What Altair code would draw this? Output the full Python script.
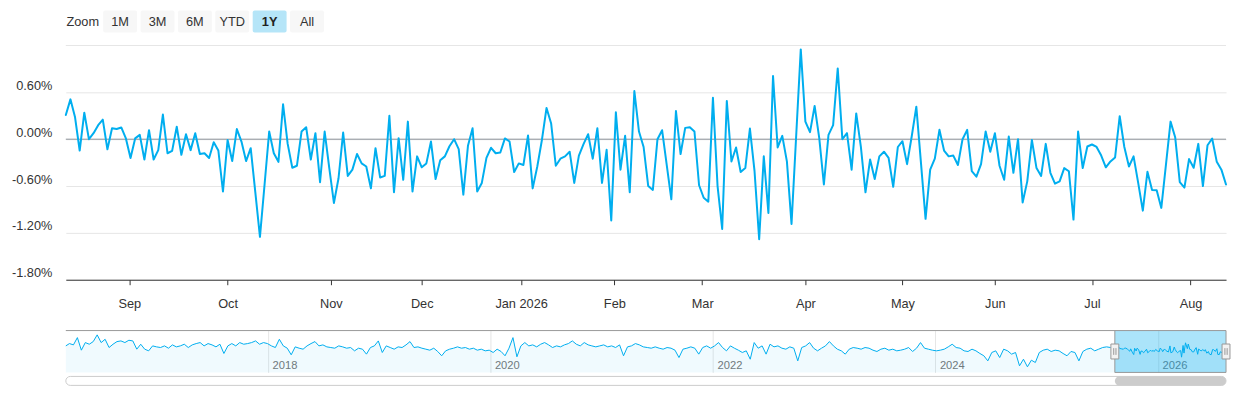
import json
import altair as alt
import numpy as np
import pandas as pd

FONT = "Liberation Sans"
BLUE = "#00aeef"

# ---------------- data ----------------
main_values = [
    0.31, 0.51, 0.28, -0.145, 0.34, 0.0, 0.077, 0.18, 0.25, -0.13,
    0.14, 0.13, 0.15, 0.01, -0.24, 0.01, 0.055, -0.26, 0.115, -0.26,
    -0.14, 0.315, -0.18, -0.15, 0.16, -0.2, 0.064, -0.14, 0.077, -0.19,
    -0.18, -0.24, -0.04, -0.145, -0.67, -0.01, -0.28, 0.13, -0.03, -0.28,
    -0.115, -0.68,
    -1.25, -0.58, 0.098, -0.18, -0.29, 0.447, -0.06, -0.366, -0.34, 0.098,
    0.153, -0.26, 0.077, -0.55, 0.098, -0.37, -0.817, -0.5, 0.085, -0.47,
    -0.39, -0.19, -0.31, -0.35, -0.63, -0.115, -0.49, -0.47, 0.30, -0.68,
    0.013, -0.52, 0.225, -0.67, -0.22, -0.36, -0.31, -0.03, -0.51, -0.27,
    -0.22, -0.09,
    0.0, -0.128, -0.71, -0.085, 0.14, -0.67, -0.56, -0.24, -0.11, -0.18,
    -0.17, 0.01, -0.03, -0.42, -0.31, -0.33, 0.047, -0.63, -0.35, -0.01,
    0.40, 0.20, -0.34, -0.25, -0.22, -0.16, -0.56, -0.21, -0.064, 0.064,
    -0.25, 0.14, -0.56, -0.136, -1.04, 0.345, -0.39, 0.043, -0.68, 0.617,
    0.098, -0.10,
    -0.60, -0.65, 0.0, 0.115, -0.33, -0.77, 0.36, -0.19, 0.145, 0.153,
    0.098, -0.59, -0.75, -0.80, 0.53, -0.60, -1.15, 0.49, -0.285, -0.106,
    -0.42, -0.37, 0.136, -0.41, -1.28, -0.22, -0.945, 0.81, -0.106, 0.043,
    -0.285, -1.085, 0.034, 1.15, 0.225, 0.09, 0.425, 0.013, -0.58, 0.055,
    0.18, 0.906,
    0.0, 0.077, -0.39, 0.33, -0.094, -0.68, -0.26, -0.51, -0.22, -0.16,
    -0.24, -0.61, -0.10, -0.026, -0.32, 0.034, 0.417, -0.30, -1.02, -0.39,
    -0.25, 0.12, -0.145, -0.22, -0.21, -0.33, 0.0, 0.12, -0.41, -0.48,
    -0.32, 0.10, -0.16, 0.077, -0.34, -0.52, 0.034, -0.43, 0.0, -0.81,
    -0.54, -0.01,
    -0.37, -0.47, -0.06, -0.43, -0.57, -0.54, -0.37, -0.41, -1.03, 0.098,
    -0.37, -0.094, -0.068, -0.10, -0.21, -0.36, -0.285, -0.234, 0.294, -0.10,
    -0.35, -0.22, -0.56, -0.915, -0.417, -0.65, -0.655, -0.88, -0.33, 0.225,
    0.026, -0.55, -0.62, -0.255, -0.366, -0.06, -0.60, -0.077, 0.009, -0.29,
    -0.39, -0.58,
]

market_holidays = [
    "2025-09-01", "2025-11-27", "2025-12-25", "2026-01-01", "2026-01-19",
    "2026-02-16", "2026-04-03", "2026-05-25", "2026-06-19", "2026-07-03",
]
first_day = "2025-08-12"
last_day = "2026-08-12"

month_starts = [
    "2025-09-01", "2025-10-01", "2025-11-01", "2025-12-01", "2026-01-01",
    "2026-02-01", "2026-03-01", "2026-04-01", "2026-05-01", "2026-06-01",
    "2026-07-01", "2026-08-01",
]
month_labels = ["Sep", "Oct", "Nov", "Dec", "Jan 2026", "Feb", "Mar", "Apr",
                "May", "Jun", "Jul", "Aug"]

y_tick_values = [-1.8, -1.2, -0.6, 0.0, 0.6]
y_top_grid = 1.2
y_min = -1.8

nav_start = "2016-03-08"
nav_history = [
    0.21, 0.42, 0.30, 0.96, -0.18, 0.51, 0.36, 0.60, 1.21, 0.51,
    0.81, 0.06, 0.36, 0.60, 0.66, 0.51, 0.72, 0.66, -0.09, 0.36,
    -0.09, -0.24, 0.21, 0.12, 0.06, 0.21, 0.00, 0.30, 0.12, 0.21,
    0.36, 0.06, 0.30, 0.42, 0.51, 0.21, 0.42, 0.30, 0.12, 0.36,
    -0.48, 0.21, 0.42, 0.21, 0.51, 0.36, 0.42, 0.51, 0.66, 0.36,
    0.51, 0.42, 0.21, 0.06, 0.81, 0.21, 0.00, -0.60, 0.12, 0.00,
    -0.09, 0.21, 0.42, 0.60, 0.21, 0.30, 0.12, 0.06, 0.00, 0.21,
    0.12, 0.00, 0.06, -0.24, 0.00, -0.09, -0.54, 0.06, 0.21, 0.66,
    -0.39, 0.21, 0.06, -0.09, 0.12, 0.06, 0.30, 0.60, 0.06, 0.12,
    0.00, -0.09, -0.18, 0.00, -0.30, -0.69, -0.24, -0.09, 0.00, 0.12,
    0.00, 0.06, -0.09, 0.00, -0.18, -0.09, -0.24, -0.18, -0.39, -0.09,
    -0.30, -0.69, 0.00, 0.96, -0.78, 0.21, 0.51, 0.21, 0.30, 0.12,
    0.36, 0.51, 0.30, 0.06, 0.21, 0.12, 0.30, 0.42, 0.66, 0.36,
    0.21, 0.51, 0.30, 0.21, 0.12, 0.21, 0.30, 0.12, 0.21, 0.06,
    0.30, -0.69, 0.12, 0.21, 0.42, 0.30, 0.12,
    0.06, 0.00, 0.12, 0.00, -0.09, 0.06, 0.00, -0.18, -0.85, -0.09,
    0.00, 0.12, 0.00, -0.54, 0.06, 0.21, 0.00, 0.21, 0.51, 0.06,
    -0.24, 0.21, 0.00, -0.18, -0.39, -0.24, -1.00, 0.51, 0.00, 0.21,
    -0.54, 0.36, 0.12, 0.21, 0.00, -0.09, 0.12, 0.00, -1.15, 0.06,
    0.21, 0.51, 0.00, -0.24, 0.00, 0.21, 0.60, 0.21, -0.09, -0.24,
    -0.54, -0.09, 0.06, 0.00, -0.09, 0.06, 0.00, -0.18, -0.30, -0.09,
    0.00, -0.18, -0.09, -0.24, -0.18, -0.09, 0.06, -0.30, 0.00, 0.51,
    0.00, -0.09, -0.18, -0.24, -0.18, -0.09, 0.12, 0.36, 0.06, 0.00,
    -0.24, -0.30, -0.09, -0.24, -0.48, -0.69, -1.15, -0.39, -0.24, -0.85,
    -0.09, -0.24, -0.54, -0.39, -1.60, -1.00, -1.69, -1.09, -1.30, -0.39,
    -0.18, -0.09, -0.30, -0.18, -0.24, -0.48, -0.69, -0.30, -0.39, -1.15,
    -0.30, -0.09, 0.00, -0.24, -0.09, 0.06, 0.12, 0.06, 0.12,
]
nav_year_ticks = [2018, 2020, 2022, 2024, 2026]
nav_y_domain = [-2.2, 1.6]

buttons = ["Zoom", "1M", "3M", "6M", "YTD", "1Y", "All"]
selected_button = "1Y"

# ---------------- derived tables ----------------
dates = pd.bdate_range(first_day, last_day, freq="C", holidays=market_holidays)
n = min(len(dates), len(main_values))
dates = dates[:n]
vals = main_values[:n]

main_df = pd.DataFrame({"i": np.arange(n), "v": vals})

ts = dates.asi8
tick_pos = []
for m in month_starts:
    t = pd.Timestamp(m).value
    k = int(np.searchsorted(ts, t))
    if k < n and ts[k] == t:
        p = float(k)
    else:
        p = (k - 1) + (t - ts[k - 1]) / (ts[k] - ts[k - 1])
    tick_pos.append(round(float(p), 4))

hist_dates = pd.date_range(nav_start, dates[0] - pd.Timedelta(days=1),
                           periods=len(nav_history))
grp_dates, grp_vals = [], []
for k in range(0, n, 3):
    chunk = vals[k:k + 3]
    grp_dates.append(dates[min(k + len(chunk) // 2, n - 1)])
    grp_vals.append(float(np.mean(chunk)))
nav_df = pd.DataFrame({"date": list(hist_dates) + grp_dates,
                       "v": list(nav_history) + grp_vals})
nav_df["date"] = pd.to_datetime(nav_df["date"]).dt.strftime("%Y-%m-%d")

d0 = dates[0].strftime("%Y-%m-%d")
d1 = dates[-1].strftime("%Y-%m-%d")
mask_df = pd.DataFrame({"start": [d0], "end": [d1]})
edge_df = pd.DataFrame({"date": [d0, d1]})
track_df = pd.DataFrame({"start": [nav_start], "end": [d1]})
one = pd.DataFrame({"k": [0]})


def dt(s):
    t = pd.Timestamp(s)
    return alt.DateTime(year=t.year, month=t.month, date=t.day)


# ---------------- range selector buttons ----------------
btn_df = pd.DataFrame({
    "label": buttons,
    "is_button": [b != "Zoom" for b in buttons],
    "selected": [b == selected_button for b in buttons],
})
bx = alt.X("label:N",
           scale=alt.Scale(domain=buttons, paddingInner=0.0933, paddingOuter=0, align=0),
           axis=alt.Axis(labels=False, ticks=False, domain=False, grid=False,
                         title=None, minExtent=12, maxExtent=12))
btn_rects = alt.Chart(btn_df).transform_filter("datum.is_button").mark_rect(
    cornerRadius=2).encode(
    x=bx,
    color=alt.condition("datum.selected", alt.value("#b5e5f8"), alt.value("#f7f7f7")),
)
btn_text = alt.Chart(btn_df).transform_filter("!datum.selected").mark_text(
    font=FONT, fontSize=12.8, color="#333333").encode(x=bx, text="label:N")
btn_text_sel = alt.Chart(btn_df).transform_filter("datum.selected").mark_text(
    font=FONT, fontSize=12.8, color="#222222", fontWeight="bold").encode(x=bx, text="label:N")
panel_buttons = alt.layer(btn_rects, btn_text, btn_text_sel).properties(
    width=alt.Step(37.5), height=22)

# ---------------- main chart ----------------
x_label_expr = "{}[indexof({}, datum.value)]".format(json.dumps(month_labels), json.dumps(tick_pos))
main_x_scale = alt.Scale(domain=[0, n - 1], nice=False, zero=False)
main_x_axis = alt.Axis(values=tick_pos, labelExpr=x_label_expr, grid=False,
                       domainColor="#333333", tickColor="#333333", tickSize=5,
                       labelPadding=13, labelFont=FONT, labelFontSize=12.8,
                       labelColor="#333333", labelOverlap=False, labelFlush=False,
                       title=None, minExtent=50, maxExtent=50)
main_y_scale = alt.Scale(domain=[y_min, y_top_grid], nice=False, zero=False)
main_y_axis = alt.Axis(values=y_tick_values,
                       labelExpr="replace(format(datum.value, '.2f'), '\u2212', '-') + '%'",
                       grid=True, gridColor="#e6e6e6", domain=False, ticks=False,
                       tickSize=0, labelPadding=14, labelFont=FONT, labelFontSize=12.8,
                       labelColor="#333333", labelBaseline="alphabetic", labelOffset=-3,
                       title=None, minExtent=58, maxExtent=58)

top_rule = alt.Chart(one).mark_rule(color="#e6e6e6", strokeWidth=1).encode(
    y=alt.YDatum(y_top_grid, scale=main_y_scale, axis=main_y_axis))
zero_rule = alt.Chart(one).mark_rule(color="#8c929a", strokeWidth=1).encode(
    y=alt.YDatum(0, scale=main_y_scale, axis=main_y_axis))
main_line = alt.Chart(main_df).mark_line(color=BLUE, strokeWidth=2, strokeJoin="round",
                                         strokeCap="round").encode(
    x=alt.X("i:Q", scale=main_x_scale, axis=main_x_axis),
    y=alt.Y("v:Q", scale=main_y_scale, axis=main_y_axis),
)
panel_main = alt.layer(top_rule, zero_rule, main_line).properties(width=1164, height=235)

# ---------------- navigator ----------------
nav_x_scale = alt.Scale(domain=[dt(nav_start), dt(d1)], nice=False)
nav_y_scale = alt.Scale(domain=nav_y_domain, nice=False, zero=False)
nav_axis = alt.Axis(values=[alt.DateTime(year=y, month=1, date=1) for y in nav_year_ticks],
                    format="%Y", grid=True, gridColor="#e6e6e6", domain=False, ticks=False,
                    tickSize=0, labelAlign="left", labelBaseline="alphabetic",
                    labelPadding=-4, labelOffset=4, labelFont=FONT, labelFontSize=11.2,
                    labelColor="#777777", labelFlush=False, labelOverlap=False,
                    title=None, minExtent=3, maxExtent=3)

nav_area = alt.Chart(nav_df).mark_area(color=BLUE, opacity=0.06).encode(
    x=alt.X("date:T", scale=nav_x_scale, axis=nav_axis),
    y=alt.Y("v:Q", scale=nav_y_scale, axis=None),
    y2=alt.datum(nav_y_domain[0]),
)
nav_mask = alt.Chart(mask_df).mark_rect(color=BLUE, opacity=0.33).encode(
    x=alt.X("start:T", scale=nav_x_scale, axis=nav_axis), x2="end:T")
nav_line = alt.Chart(nav_df).mark_line(color=BLUE, strokeWidth=1).encode(
    x=alt.X("date:T", scale=nav_x_scale, axis=nav_axis),
    y=alt.Y("v:Q", scale=nav_y_scale, axis=None),
)
nav_top = alt.Chart(one).mark_rule(color="#999999", strokeWidth=1).encode(
    y=alt.YDatum(nav_y_domain[1], axis=None))
nav_edges = alt.Chart(edge_df).mark_rule(color="#999999", strokeWidth=1).encode(
    x=alt.X("date:T", scale=nav_x_scale, axis=nav_axis))
nav_bottom = alt.Chart(mask_df).mark_rule(color="#999999", strokeWidth=1).encode(
    x=alt.X("start:T", scale=nav_x_scale, axis=nav_axis), x2="end:T",
    y=alt.YDatum(nav_y_domain[0], axis=None))
mid_val = (nav_y_domain[0] + nav_y_domain[1]) / 2
handle_body = alt.Chart(edge_df).mark_point(
    shape="M-0.53,-1L0.53,-1L0.53,1L-0.53,1Z", size=225, filled=True,
    fill="#f2f2f2", stroke="#999999", strokeWidth=1, opacity=1).encode(
    x=alt.X("date:T", scale=nav_x_scale, axis=nav_axis),
    y=alt.YDatum(mid_val, axis=None))
handle_grip = alt.Chart(edge_df).mark_point(
    shape="M-0.15,-0.45L-0.15,0.45M0.15,-0.45L0.15,0.45", size=225, filled=False,
    stroke="#999999", strokeWidth=1, opacity=1).encode(
    x=alt.X("date:T", scale=nav_x_scale, axis=nav_axis),
    y=alt.YDatum(mid_val, axis=None))
panel_nav = alt.layer(nav_area, nav_mask, nav_line, nav_top, nav_edges, nav_bottom,
                      handle_body, handle_grip).properties(width=1164, height=42)

# ---------------- scrollbar ----------------
scroll_track = alt.Chart(track_df).mark_rect(fill="#ffffff", stroke="#cccccc", strokeWidth=1,
                                             cornerRadius=4.5).encode(
    x=alt.X("start:T", scale=nav_x_scale, axis=None), x2="end:T")
scroll_thumb = alt.Chart(mask_df).mark_rect(fill="#cccccc", cornerRadius=4.5).encode(
    x=alt.X("start:T", scale=nav_x_scale, axis=None), x2="end:T")
panel_scroll = alt.layer(scroll_track, scroll_thumb).properties(width=1164, height=9)

chart = alt.vconcat(panel_buttons, panel_main, panel_nav, panel_scroll, spacing=0).properties(
    padding={"left": 0, "top": 2, "right": 0, "bottom": 0}
).configure(font=FONT).configure_view(strokeWidth=0, stroke="transparent")

chart.save("out.html", embed_options={"renderer": "svg", "actions": False})
